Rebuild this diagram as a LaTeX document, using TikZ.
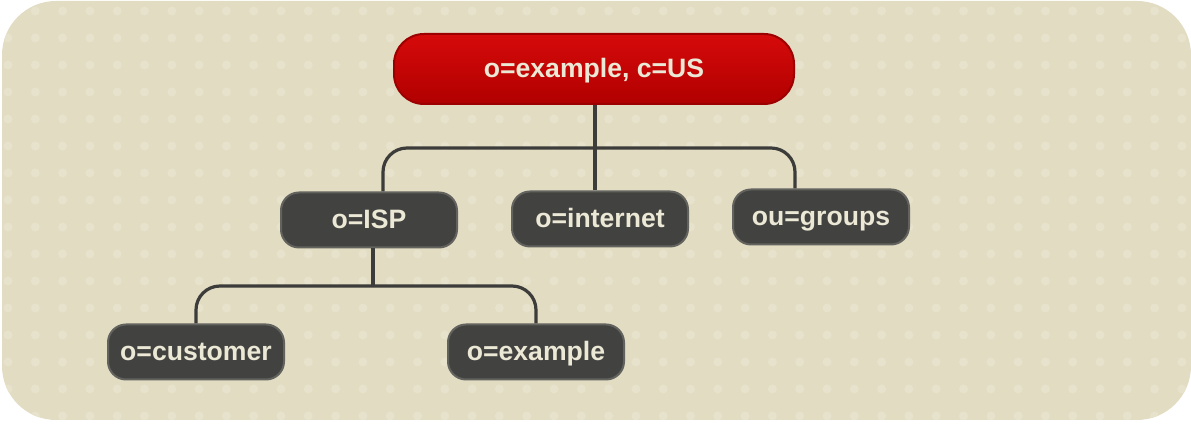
\documentclass[tikz,border=0pt]{standalone}
\usepackage{fontspec}
\setmainfont{Liberation Sans}
\usetikzlibrary{calc}

\definecolor{paper}{RGB}{226,220,194}
\definecolor{paperdot}{RGB}{231,226,204}
\definecolor{rootred}{RGB}{196,0,0}
\definecolor{rootredtop}{RGB}{214,10,10}
\definecolor{boxgray}{RGB}{66,66,64}
\definecolor{boxedge}{RGB}{98,98,94}
\definecolor{linegray}{RGB}{60,60,58}
\definecolor{labeltext}{RGB}{236,232,214}

\tikzset{
	rootbox/.style={draw=rootred!80!black, line width=1pt, top color=rootredtop, bottom color=rootred!90!black,
		rounded corners=15pt, minimum width=200pt, minimum height=35pt, inner sep=0pt,
		text height=9.5pt, text depth=1pt,
		text=labeltext, font=\fontsize{13.3}{15}\selectfont\bfseries},
	entrybox/.style={draw=boxedge, line width=1pt, fill=boxgray,
		rounded corners=9pt, minimum width=88pt, minimum height=27.5pt, inner sep=0pt,
		text height=9.5pt, text depth=0.5pt,
		text=labeltext, font=\fontsize{13.3}{15}\selectfont\bfseries},
	branch/.style={draw=linegray, line width=1.6pt, rounded corners=12pt}
}

\begin{document}
\begin{tikzpicture}[x=0.5pt,y=-0.5pt]
	\useasboundingbox (0,0) rectangle (1191,426);
	% background
	\fill[paper] (2,1) [rounded corners=27pt] rectangle (1191,420);
	\begin{scope}
		\clip (2,1) [rounded corners=27pt] rectangle (1191,420);
		\foreach \i in {0,...,43}
			\foreach \j in {0,...,15}
				\fill[paperdot] (\i*27.3+8,\j*27+11) circle (4.5);
	\end{scope}

	% entries
	\node[rootbox] (example) at (594,69) {o=example, c=US};
	\node[entrybox] (isp) at (369,220) {o=ISP};
	\node[entrybox] (internet) at (600,219) {o=internet};
	\node[entrybox] (groups) at (821,217) {ou=groups};
	\node[entrybox] (customer) at (196,352) {o=customer};
	\node[entrybox] (subexample) at (536,352) {o=example};

	% tree
	\coordinate (top) at (595,148);
	\coordinate (low) at (373,286);
	\draw[branch] (example.south -| top) -- (internet.north -| top);
	\draw[branch] (top) -| ([xshift=7pt]isp.north);
	\draw[branch] (top) -| ([xshift=-13pt]groups.north);
	\draw[branch] (isp.south -| low) -- (low);
	\draw[branch] (low) -| (customer.north);
	\draw[branch] (low) -| (subexample.north);
\end{tikzpicture}
\end{document}
